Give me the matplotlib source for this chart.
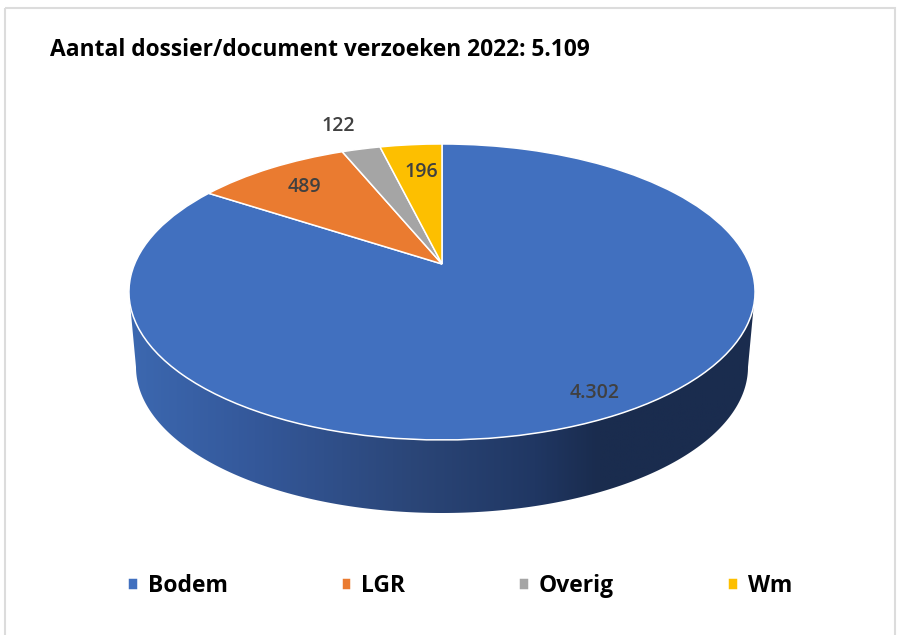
import numpy as np
import matplotlib
matplotlib.use("Agg")
import matplotlib.pyplot as plt
from matplotlib.colors import LinearSegmentedColormap
from matplotlib.patches import Polygon, Rectangle
from matplotlib.transforms import Transform

categories = ["Bodem", "LGR", "Overig", "Wm"]
values = [4302, 489, 122, 196]
value_labels = ["4.302", "489", "122", "196"]
title = "Aantal dossier/document verzoeken 2022: 5.109"
colors = ["#4170bf", "#ea7b30", "#a5a5a5", "#fdbf00"]

plt.rcParams['font.family'] = ['Open Sans', 'DejaVu Sans']


# tilts the flat pie, the far side shrinks like in the excel 3d pie
class Tilt(Transform):
    input_dims = 2
    output_dims = 2

    def transform_non_affine(self, xy):
        xy = np.asarray(xy)
        w = 1 + 0.189 * xy[:, 1]
        return np.column_stack([442 + 307.4 * xy[:, 0] / w,
                                264 - 142.7 * xy[:, 1] / w])


fig = plt.figure(figsize=(9.04, 6.35), dpi=100)
ax = fig.add_axes([0, 0, 1, 1])

# side of the pie
t = np.linspace(0, np.pi, 200)
top_edge = np.column_stack([442 + 313 * np.cos(t), 292 + 148 * np.sin(t)])
low_edge = np.column_stack([442 + 306 * np.cos(t), 367 + 146 * np.sin(t)])
side = Polygon(np.vstack([top_edge, low_edge[::-1]]), closed=True, fc="none", ec="none")
ax.add_patch(side)
cmap = LinearSegmentedColormap.from_list("side", [
    (0.0, "#3c68b0"), (0.2, "#34589a"), (0.45, "#2b4678"),
    (0.65, "#203763"), (0.75, "#1a2c4e"), (1.0, "#1a2c4e")])
grad = ax.imshow(np.linspace(0, 1, 256)[None, :], extent=(129, 755, 520, 290),
                 cmap=cmap, aspect="auto", zorder=1)
grad.set_clip_path(side)

wedges, _ = ax.pie(values, colors=colors, startangle=90, counterclock=False,
                   wedgeprops={"edgecolor": "white", "linewidth": 1.1})
tilt = Tilt()
for w in wedges:
    w.set_transform(tilt + ax.transData)
    w.set_zorder(2)

ax.set_aspect("auto")
ax.set_xlim(0, 904)
ax.set_ylim(635, 0)
ax.axis("off")

# frame of the screenshot
ax.add_patch(Rectangle((5, 8), 890, 640, fc="none", ec="#dcdcdc", lw=1.5, zorder=0))

ax.text(50, 50, title, fontsize=16.4, fontweight="bold", color="black", va="center", ha="left")

lab = {"fontsize": 14, "fontweight": "semibold", "color": "#404040",
       "ha": "center", "va": "center", "zorder": 3}
ax.text(595, 393, value_labels[0], **lab)
ax.text(304, 187, value_labels[1], **lab)
ax.text(338, 126, value_labels[2], **lab)
ax.text(421, 172, value_labels[3], **lab)

fs = 16.5
ax.legend(wedges, categories, loc="center", bbox_to_anchor=(460 / 904, 1 - 586 / 635),
          bbox_transform=ax.transAxes, ncol=4, frameon=False,
          prop={"size": fs, "weight": "bold"}, handlelength=0.42, handleheight=0.42,
          handletextpad=0.44, columnspacing=82 / fs, borderpad=0)

plt.savefig("out.png", dpi=100)
